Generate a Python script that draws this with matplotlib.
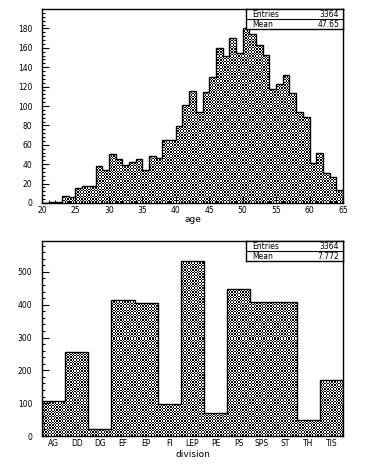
import numpy as np
import matplotlib
matplotlib.use("Agg")
import matplotlib.pyplot as plt
from matplotlib.ticker import MultipleLocator, AutoMinorLocator

# ---- data ----
age_edges = list(range(20, 66))
age_counts = [0, 1, 1, 7, 6, 15, 18, 18, 38, 34,
              50, 45, 39, 42, 45, 34, 48, 46, 65, 65,
              79, 101, 115, 94, 114, 130, 160, 152, 170, 155,
              180, 174, 163, 153, 118, 123, 132, 113, 94, 89,
              41, 52, 31, 27, 13]
age_stats = [("Entries", "3364"), ("Mean", "47.65")]

divisions = ["AG", "DD", "DG", "EF", "EP", "FI", "LEP", "PE", "PS", "SPS", "ST", "TH", "TIS"]
div_counts = [106, 257, 21, 413, 404, 97, 533, 71, 447, 409, 409, 50, 172]
div_stats = [("Entries", "3364"), ("Mean", "7.772")]

W, H = 387, 465
fig = plt.figure(figsize=(W / 100, H / 100), dpi=100)
plt.rcParams['font.family'] = ['DejaVu Sans']
FS = 5.5

def px_axes(x0, y0, x1, y1):
    return fig.add_axes([x0 / W, 1 - y1 / H, (x1 - x0) / W, (y1 - y0) / H])

def textured_hist(ax, edges, counts, wpx, hpx, ylim):
    ax.set_xlim(edges[0], edges[-1])
    ax.set_ylim(*ylim)
    clip = ax.stairs(counts, edges, fill=True, baseline=0, color='none', lw=0)
    ii, jj = np.indices((hpx, wpx))
    s = 0.72
    checker = ((np.floor(ii * s) + np.floor(jj * s)) % 2).astype(float)
    im = ax.imshow(checker, cmap='gray', vmin=0, vmax=1,
                   extent=(edges[0], edges[-1], ylim[0], ylim[1]),
                   aspect='auto', interpolation='nearest', zorder=1, origin='lower')
    im.set_clip_path(clip)
    ax.stairs(counts, edges, color='black', lw=1.0, zorder=2)

def stats_box(rows, x0, x1, y0, y1):
    bx = px_axes(x0, y0, x1, y1)
    bx.set_xlim(0, 1); bx.set_ylim(0, 1)
    bx.set_xticks([]); bx.set_yticks([])
    bx.set_facecolor('white')
    for s in bx.spines.values():
        s.set_linewidth(1.0)
    bx.axhline(0.5, color='black', lw=0.8)
    for k, (name, val) in enumerate(rows):
        yc = 0.74 - 0.5 * k
        bx.text(0.06, yc, name, ha='left', va='center', fontsize=FS)
        bx.text(0.96, yc, val, ha='right', va='center', fontsize=FS)

def style(ax):
    for s in ax.spines.values():
        s.set_linewidth(1.0)
    ax.tick_params(direction='in', length=5, width=0.8, labelsize=FS,
                   top=False, right=False)
    ax.tick_params(which='minor', direction='in', length=2.5, width=0.8)

# ---- top panel ----
ax1 = px_axes(42, 9, 343, 203)
textured_hist(ax1, age_edges, age_counts, 301, 194, (0, 200))
style(ax1)
ax1.xaxis.set_major_locator(MultipleLocator(5))
ax1.xaxis.set_minor_locator(MultipleLocator(1))
ax1.yaxis.set_major_locator(MultipleLocator(20))
ax1.yaxis.set_minor_locator(AutoMinorLocator(5))
ax1.set_yticks(range(0, 181, 20))
ax1.tick_params(axis='y', pad=7)
ax1.tick_params(axis='x', pad=2.5)
ax1.set_xlabel("age", fontsize=6.5, labelpad=0)
stats_box(age_stats, 246, 343, 9, 29)

# ---- bottom panel ----
ax2 = px_axes(42, 241, 343, 436)
div_edges = list(range(len(divisions) + 1))
textured_hist(ax2, div_edges, div_counts, 301, 195, (0, 594))
style(ax2)
ax2.set_xticks(np.arange(len(divisions)) + 0.5)
ax2.set_xticklabels(divisions)
ax2.tick_params(axis='x', length=0, pad=2.5)
ax2.yaxis.set_major_locator(MultipleLocator(100))
ax2.yaxis.set_minor_locator(MultipleLocator(20))
ax2.tick_params(axis='y', pad=7)
ax2.set_xlabel("division", fontsize=6.5, labelpad=1)
stats_box(div_stats, 246, 343, 241, 261)

fig.savefig("out.png", dpi=100)
